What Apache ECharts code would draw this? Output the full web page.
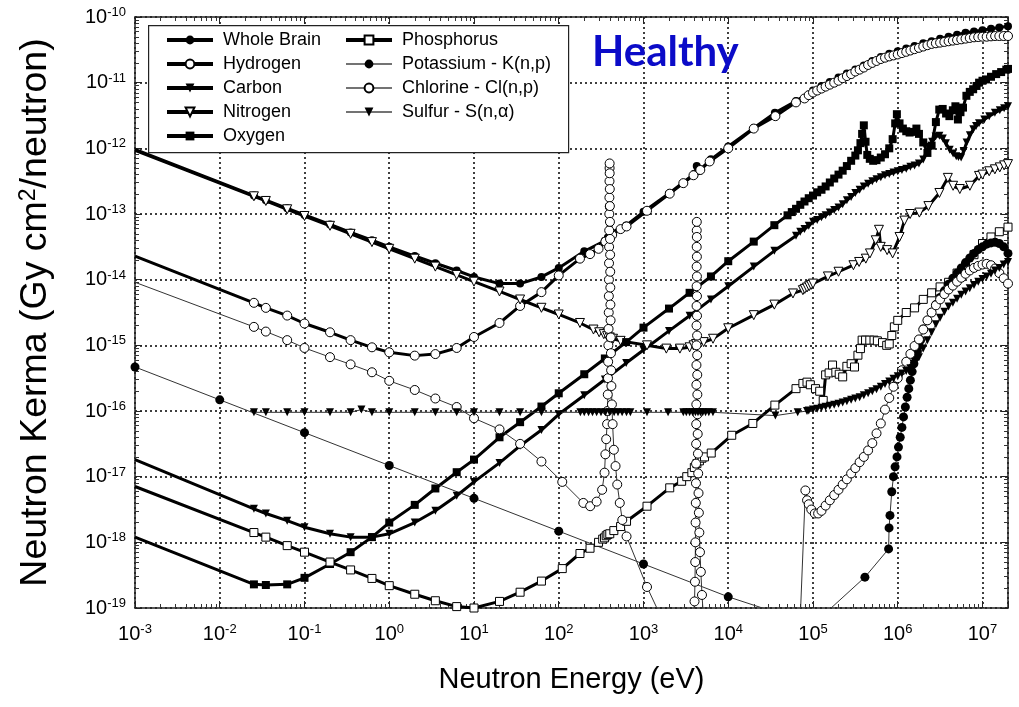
<!DOCTYPE html>
<html>
<head>
<meta charset="utf-8">
<script src="https://cdn.jsdelivr.net/npm/echarts@6.0.0/dist/echarts.min.js"></script>
<style>
html,body{margin:0;padding:0;background:#fff;}
#chart{width:1019px;height:707px;}
</style>
</head>
<body>
<div id="chart"></div>
<script>
// Neutron kerma factors for healthy brain tissue and its constituents.
// Each point: [neutron energy (eV), kerma (Gy cm^2 / neutron)]

const wholeBrain = [
  [1e-3, 9.6e-13], [0.0253, 1.91e-13], [0.035, 1.62e-13], [0.0625, 1.22e-13], [0.1, 9.66e-14],
  [0.2, 6.92e-14], [0.35, 5.25e-14], [0.625, 3.98e-14], [1, 3.16e-14], [2, 2.29e-14],
  [3.5, 1.78e-14], [6.25, 1.38e-14], [10, 1.1e-14], [20, 8.71e-15], [35, 8.71e-15],
  [62.5, 1.1e-14], [100, 1.51e-14], [200, 2.7e-14], [350, 3.9e-14], [380, 4.4e-14],
  [390, 1.3e-13], [398, 4.5e-13], [405, 1.3e-13], [415, 5.2e-14], [625, 6.7e-14],
  [1000, 1.08e-13], [2000, 2.05e-13], [4000, 4.1e-13], [4250, 5.4e-13], [4500, 4.5e-13],
  [6250, 6.8e-13], [1e4, 1.07e-12], [2e4, 2.04e-12], [3.55e4, 3.47e-12], [6.31e4, 5.25e-12],
  [1e5, 7.59e-12], [1.26e5, 8.91e-12], [1.58e5, 1.02e-11], [2e5, 1.2e-11], [2.51e5, 1.38e-11],
  [3.16e5, 1.58e-11], [3.98e5, 1.82e-11], [5.01e5, 2.14e-11], [6.31e5, 2.45e-11], [7.94e5, 2.75e-11],
  [1e6, 3.02e-11], [1.26e6, 3.31e-11], [1.58e6, 3.63e-11], [2e6, 3.98e-11], [2.51e6, 4.27e-11],
  [3.16e6, 4.68e-11], [3.98e6, 5.01e-11], [5.01e6, 5.37e-11], [6.31e6, 5.75e-11], [7.94e6, 6.03e-11],
  [1e7, 6.31e-11], [1.26e7, 6.61e-11], [1.58e7, 6.92e-11], [2e7, 7.24e-11]
];

const hydrogen = [
  [1e-3, 2.29e-14], [0.0253, 4.44e-15], [0.035, 3.72e-15], [0.0625, 2.84e-15], [0.1, 2.15e-15],
  [0.2, 1.58e-15], [0.35, 1.2e-15], [0.625, 9.33e-16], [1, 7.82e-16], [2, 6.97e-16],
  [3.5, 7.36e-16], [6.25, 9.12e-16], [10, 1.34e-15], [20, 2.19e-15], [35, 3.98e-15],
  [62.5, 6.46e-15], [100, 1.16e-14], [178, 2.09e-14], [234, 2.45e-14], [295, 2.95e-14],
  [355, 3.8e-14], [427, 4.79e-14], [537, 5.89e-14], [631, 6.46e-14], [1100, 1.12e-13],
  [2040, 2.04e-13], [2950, 2.95e-13], [3890, 3.89e-13], [4680, 4.68e-13], [6030, 6.31e-13],
  [1e4, 1e-12], [2e4, 2e-12], [3.6e4, 3.09e-12], [6.3e4, 5.01e-12], [7.94e4, 5.75e-12],
  [8.91e4, 6.46e-12], [1e5, 7.08e-12], [1.12e5, 7.59e-12], [1.26e5, 8.13e-12], [1.41e5, 8.71e-12],
  [1.58e5, 9.33e-12], [1.78e5, 1e-11], [2e5, 1.07e-11], [2.24e5, 1.17e-11], [2.51e5, 1.26e-11],
  [2.82e5, 1.35e-11], [3.16e5, 1.48e-11], [3.55e5, 1.58e-11], [3.98e5, 1.7e-11], [4.47e5, 1.86e-11],
  [5.01e5, 2e-11], [5.62e5, 2.14e-11], [6.31e5, 2.29e-11], [7.08e5, 2.4e-11], [7.94e5, 2.51e-11],
  [8.91e5, 2.6e-11], [1e6, 2.69e-11], [1.12e6, 2.82e-11], [1.26e6, 2.95e-11], [1.41e6, 3.09e-11],
  [1.58e6, 3.24e-11], [1.78e6, 3.39e-11], [2e6, 3.55e-11], [2.24e6, 3.72e-11], [2.51e6, 3.89e-11],
  [2.82e6, 3.98e-11], [3.16e6, 4.07e-11], [3.55e6, 4.17e-11], [3.98e6, 4.27e-11], [4.47e6, 4.37e-11],
  [5.01e6, 4.47e-11], [5.62e6, 4.57e-11], [6.31e6, 4.68e-11], [7.08e6, 4.79e-11], [7.94e6, 4.9e-11],
  [8.91e6, 4.95e-11], [1e7, 5.01e-11], [1.12e7, 5.01e-11], [1.26e7, 5.07e-11], [1.41e7, 5.13e-11],
  [1.58e7, 5.13e-11], [1.78e7, 5.13e-11], [2e7, 5.13e-11]
];

const carbon = [
  [1e-3, 1.82e-17], [0.0253, 3.24e-18], [0.035, 2.75e-18], [0.0625, 2.14e-18], [0.1, 1.7e-18],
  [0.2, 1.35e-18], [0.35, 1.2e-18], [0.625, 1.2e-18], [1, 1.35e-18], [2, 2e-18],
  [3.5, 3.02e-18], [6.25, 5.13e-18], [10, 8.32e-18], [20, 1.62e-17], [35, 2.95e-17],
  [62.5, 5.13e-17], [100, 8.91e-17], [200, 1.74e-16], [350, 3.02e-16], [625, 5.37e-16],
  [1000, 8.51e-16], [2000, 1.66e-15], [3500, 2.82e-15], [6250, 5.01e-15], [1e4, 7.94e-15],
  [2e4, 1.58e-14], [3.5e4, 2.75e-14], [6.3e4, 4.68e-14], [7.08e4, 5.37e-14], [7.94e4, 5.89e-14],
  [8.91e4, 6.61e-14], [1e5, 7.59e-14], [1.12e5, 8.13e-14], [1.26e5, 8.91e-14], [1.41e5, 9.55e-14],
  [1.58e5, 1.05e-13], [1.78e5, 1.15e-13], [2e5, 1.26e-13], [2.24e5, 1.41e-13], [2.51e5, 1.62e-13],
  [2.82e5, 1.82e-13], [3.16e5, 2.09e-13], [3.55e5, 2.34e-13], [3.98e5, 2.63e-13], [4.47e5, 2.88e-13],
  [5.01e5, 3.16e-13], [5.62e5, 3.39e-13], [6.31e5, 3.63e-13], [7.08e5, 3.89e-13], [7.94e5, 4.07e-13],
  [8.91e5, 4.27e-13], [1e6, 4.47e-13], [1.12e6, 4.68e-13], [1.26e6, 4.9e-13], [1.41e6, 5.25e-13],
  [1.58e6, 5.5e-13], [1.78e6, 5.89e-13], [2e6, 6.76e-13], [2.3e6, 1.05e-12], [2.55e6, 1.26e-12],
  [2.8e6, 1.51e-12], [3.1e6, 1.55e-12], [3.4e6, 1.41e-12], [3.7e6, 1.2e-12], [4.1e6, 9.55e-13],
  [4.5e6, 8.32e-13], [4.9e6, 7.59e-13], [5.2e6, 7.41e-13], [5.6e6, 7.24e-13], [6e6, 9.12e-13],
  [6.5e6, 1.23e-12], [7.1e6, 1.58e-12], [7.8e6, 1.95e-12], [8.4e6, 2.19e-12], [9.1e6, 2.4e-12],
  [1.05e7, 2.75e-12], [1.2e7, 3.09e-12], [1.4e7, 3.47e-12], [1.6e7, 3.8e-12], [1.8e7, 4.07e-12],
  [2e7, 4.37e-12]
];

const nitrogen = [
  [1e-3, 9.33e-13], [0.0253, 1.86e-13], [0.035, 1.58e-13], [0.0625, 1.18e-13], [0.1, 9.33e-14],
  [0.2, 6.61e-14], [0.35, 4.99e-14], [0.625, 3.73e-14], [1, 2.95e-14], [2, 2.09e-14],
  [3.5, 1.58e-14], [6.25, 1.18e-14], [10, 9.33e-15], [20, 6.61e-15], [35, 4.99e-15],
  [62.5, 3.73e-15], [100, 2.95e-15], [178, 2.19e-15], [257, 1.74e-15], [300, 1.58e-15],
  [340, 1.48e-15], [372, 1.38e-15], [400, 1.32e-15], [437, 1.26e-15], [537, 1.17e-15],
  [1100, 1e-15], [1860, 8.91e-16], [2690, 8.91e-16], [3500, 9.33e-16], [3890, 1e-15],
  [4170, 1.05e-15], [4470, 1.07e-15], [5130, 1.12e-15], [6610, 1.26e-15], [1e4, 1.82e-15],
  [2e4, 2.88e-15], [3.5e4, 4.17e-15], [5.8e4, 6.17e-15], [7.6e4, 6.92e-15], [8e4, 7.24e-15],
  [8.5e4, 7.59e-15], [9e4, 7.94e-15], [9.5e4, 8.32e-15], [1e5, 8.71e-15], [1.5e5, 1.12e-14],
  [2e5, 1.32e-14], [3e5, 1.66e-14], [3.5e5, 1.86e-14], [4.2e5, 2.09e-14], [4.7e5, 2.51e-14],
  [5.5e5, 3.98e-14], [6e5, 5.75e-14], [6.3e5, 3.16e-14], [7.5e5, 2.82e-14], [8.7e5, 2.51e-14],
  [1.05e6, 4.47e-14], [1.2e6, 7.94e-14], [1.4e6, 1e-13], [1.8e6, 1.05e-13], [2.3e6, 1.32e-13],
  [3.1e6, 2.09e-13], [3.9e6, 3.55e-13], [4.5e6, 2.69e-13], [5.4e6, 2.4e-13], [7.1e6, 2.69e-13],
  [9.1e6, 3.8e-13], [1e7, 3.98e-13], [1.2e7, 4.47e-13], [1.4e7, 4.79e-13], [1.6e7, 5.13e-13],
  [1.8e7, 5.5e-13], [2e7, 5.75e-13]
];

const oxygen = [
  [1e-3, 1.2e-18], [0.0253, 2.29e-19], [0.035, 2.24e-19], [0.0625, 2.29e-19], [0.1, 2.88e-19],
  [0.2, 4.68e-19], [0.35, 7.08e-19], [0.625, 1.2e-18], [1, 2e-18], [2, 3.72e-18],
  [3.5, 6.61e-18], [6.25, 1.17e-17], [10, 1.82e-17], [20, 3.98e-17], [35, 6.76e-17],
  [62.5, 1.17e-16], [100, 1.86e-16], [200, 3.63e-16], [350, 6.31e-16], [625, 1.12e-15],
  [1000, 1.86e-15], [2000, 3.63e-15], [3500, 6.31e-15], [6250, 1.12e-14], [1e4, 1.91e-14],
  [2e4, 3.8e-14], [3.5e4, 6.76e-14], [5.01e4, 9.55e-14], [5.62e4, 1.07e-13], [6.31e4, 1.2e-13],
  [7.08e4, 1.38e-13], [7.94e4, 1.55e-13], [8.91e4, 1.74e-13], [1e5, 1.91e-13], [1.12e5, 2.14e-13],
  [1.26e5, 2.34e-13], [1.41e5, 2.63e-13], [1.58e5, 3.02e-13], [1.78e5, 3.47e-13], [2e5, 3.98e-13],
  [2.24e5, 4.57e-13], [2.51e5, 5.37e-13], [2.82e5, 6.46e-13], [3.16e5, 7.76e-13], [3.39e5, 9.33e-13],
  [3.63e5, 1.2e-12], [3.8e5, 1.66e-12], [3.98e5, 2.24e-12], [4.17e5, 1.26e-12], [4.37e5, 7.94e-13],
  [4.68e5, 6.92e-13], [5.13e5, 6.46e-13], [5.62e5, 6.61e-13], [6.31e5, 7.24e-13], [7.08e5, 8.13e-13],
  [7.94e5, 1e-12], [8.71e5, 1.38e-12], [9.33e5, 2.4e-12], [9.77e5, 3.31e-12], [1.05e6, 2.4e-12],
  [1.15e6, 2e-12], [1.26e6, 1.82e-12], [1.38e6, 1.74e-12], [1.51e6, 1.78e-12], [1.66e6, 2e-12],
  [1.78e6, 1.66e-12], [2e6, 1.23e-12], [2.24e6, 8.51e-13], [2.51e6, 1.1e-12], [2.82e6, 2.51e-12],
  [3.09e6, 3.89e-12], [3.39e6, 3.98e-12], [3.72e6, 3.39e-12], [4.07e6, 3.09e-12], [4.47e6, 3.8e-12],
  [4.79e6, 4.37e-12], [5.13e6, 2.75e-12], [5.5e6, 3.55e-12], [5.89e6, 4.17e-12], [6.46e6, 6.31e-12],
  [7.08e6, 7.24e-12], [7.76e6, 7.94e-12], [8.51e6, 8.91e-12], [9.12e6, 1e-11], [1e7, 1.07e-11],
  [1.1e7, 1.12e-11], [1.26e7, 1.23e-11], [1.45e7, 1.35e-11], [1.66e7, 1.45e-11], [1.91e7, 1.58e-11],
  [2e7, 1.62e-11]
];

const phosphorus = [
  [1e-3, 7.08e-18], [0.0253, 1.41e-18], [0.035, 1.2e-18], [0.0625, 8.91e-19], [0.1, 7.08e-19],
  [0.2, 5.01e-19], [0.35, 3.8e-19], [0.625, 2.82e-19], [1, 2.19e-19], [2, 1.62e-19],
  [3.5, 1.29e-19], [6.25, 1.05e-19], [10, 1e-19], [20, 1.26e-19], [35, 1.74e-19],
  [62.5, 2.57e-19], [110, 3.98e-19], [178, 6.76e-19], [234, 8.13e-19], [295, 1e-18],
  [330, 1.12e-18], [347, 1.17e-18], [363, 1.26e-18], [380, 1.32e-18], [400, 1.35e-18],
  [447, 1.51e-18], [537, 1.74e-18], [631, 2.09e-18], [1100, 3.55e-18], [2040, 6.76e-18],
  [2820, 8.51e-18], [3240, 1e-17], [3720, 1.15e-17], [3980, 1.38e-17], [4270, 1.58e-17],
  [4570, 1.74e-17], [4900, 1.91e-17], [5250, 2e-17], [6300, 2.29e-17], [1.1e4, 4.27e-17],
  [1.95e4, 6.46e-17], [3.55e4, 1.23e-16], [6.3e4, 2.19e-16], [7.6e4, 2.63e-16], [8.5e4, 2.75e-16],
  [9.3e4, 2.51e-16], [1.07e5, 2.19e-16], [1.2e5, 2e-16], [1.32e5, 1.45e-16], [1.41e5, 3.55e-16],
  [1.55e5, 3.8e-16], [1.7e5, 5.01e-16], [1.86e5, 3.89e-16], [2.04e5, 3.63e-16], [2.24e5, 3.31e-16],
  [2.51e5, 4.79e-16], [2.82e5, 5.25e-16], [3.09e5, 4.68e-16], [3.39e5, 7.08e-16], [3.63e5, 8.91e-16],
  [3.8e5, 1.2e-15], [4.17e5, 1.2e-15], [4.68e5, 1.2e-15], [5.25e5, 1.2e-15], [5.75e5, 1.17e-15],
  [6.61e5, 1.1e-15], [7.41e5, 1e-15], [7.94e5, 1.05e-15], [8.51e5, 1.41e-15], [9.12e5, 1.91e-15],
  [1e6, 2.4e-15], [1.26e6, 3.16e-15], [1.58e6, 3.72e-15], [2e6, 5.01e-15], [2.51e6, 6.31e-15],
  [3.16e6, 7.76e-15], [3.98e6, 9.12e-15], [5.01e6, 1.26e-14], [6.31e6, 1.58e-14], [7.94e6, 2.4e-14],
  [1e7, 3.55e-14], [1.26e7, 4.47e-14], [1.58e7, 5.37e-14], [2e7, 6.31e-14]
];

const potassium = [
  [1e-3, 4.68e-16], [1e-2, 1.48e-16], [0.1, 4.68e-17], [1, 1.48e-17], [10, 4.68e-18],
  [100, 1.48e-18], [1e3, 4.68e-19], [1e4, 1.48e-19], [1e5, 5.6e-20], [4.1e5, 2.95e-19],
  [7.8e5, 7.94e-19], [7.9e5, 1.66e-18], [8.1e5, 2.57e-18], [8.5e5, 5.89e-18], [8.9e5, 1e-17],
  [9.3e5, 1.41e-17], [9.8e5, 2e-17], [1.02e6, 2.82e-17], [1.07e6, 3.98e-17], [1.12e6, 5.62e-17],
  [1.17e6, 8.13e-17], [1.23e6, 1.15e-16], [1.29e6, 1.62e-16], [1.35e6, 2.19e-16], [1.41e6, 2.95e-16],
  [1.48e6, 3.98e-16], [1.55e6, 5.25e-16], [1.62e6, 6.61e-16], [1.7e6, 8.32e-16], [1.78e6, 1e-15],
  [1.86e6, 1.2e-15], [2e6, 1.78e-15], [2.24e6, 2.4e-15], [2.51e6, 3.16e-15], [2.82e6, 4.17e-15],
  [3.16e6, 5.37e-15], [3.55e6, 6.76e-15], [3.98e6, 8.51e-15], [4.47e6, 1.05e-14], [5.01e6, 1.26e-14],
  [5.62e6, 1.51e-14], [6.31e6, 1.82e-14], [7.08e6, 2.14e-14], [7.94e6, 2.51e-14], [8.91e6, 2.88e-14],
  [1e7, 3.16e-14], [1.12e7, 3.47e-14], [1.26e7, 3.63e-14], [1.41e7, 3.72e-14], [1.58e7, 3.55e-14],
  [1.78e7, 3.16e-14], [2e7, 2.51e-14]
];

const chlorine = [
  [1e-3, 9.12e-15], [0.0253, 1.91e-15], [0.035, 1.62e-15], [0.0625, 1.2e-15], [0.1, 9.12e-16],
  [0.2, 6.61e-16], [0.35, 5.13e-16], [0.625, 3.89e-16], [1, 2.88e-16], [2, 2.09e-16],
  [3.5, 1.55e-16], [6.25, 1.15e-16], [10, 7.76e-17], [20, 5.25e-17], [35, 3.16e-17],
  [62.5, 1.7e-17], [110, 8.32e-18], [195, 3.98e-18], [235, 3.55e-18], [280, 4.17e-18],
  [325, 6.31e-18], [347, 1.15e-17], [355, 2.19e-17], [363, 3.72e-17], [372, 6.31e-17],
  [376, 1e-16], [379, 1.78e-16], [381, 3.16e-16], [383, 5.62e-16], [385, 1e-15],
  [387, 1.78e-15], [389, 3.16e-15], [390, 5.62e-15], [391, 1e-14], [392, 1.78e-14],
  [393, 3.16e-14], [394, 5.62e-14], [395, 1e-13], [396, 1.78e-13], [397, 3.16e-13],
  [398, 5.01e-13], [398.5, 5.89e-13], [399, 4.17e-13], [400, 2.4e-13], [401, 1.32e-13],
  [402, 7.59e-14], [403, 4.17e-14], [404, 2.4e-14], [405, 1.32e-14], [406, 7.59e-15],
  [407, 4.17e-15], [409, 2.4e-15], [411, 1.32e-15], [413, 7.59e-16], [415, 4.17e-16],
  [418, 2.4e-16], [424, 1.26e-16], [432, 6.31e-17], [447, 2.57e-17], [468, 1.45e-17],
  [490, 7.59e-18], [525, 3.98e-18], [562, 2.19e-18], [631, 1.23e-18], [1100, 2.09e-19],
  [1450, 9.77e-20], [2500, 1.6e-20], [3500, 1e-20], [3900, 8e-20], [4000, 1.26e-19],
  [4050, 2.51e-19], [4080, 5.01e-19], [4100, 1e-18], [4120, 2e-18], [4140, 3.98e-18],
  [4160, 7.94e-18], [4170, 1.58e-17], [4180, 3.16e-17], [4190, 6.31e-17], [4200, 1.26e-16],
  [4210, 2.51e-16], [4215, 5.01e-16], [4220, 1e-15], [4225, 2e-15], [4230, 3.98e-15],
  [4235, 7.94e-15], [4240, 1.58e-14], [4245, 3.16e-14], [4250, 5.62e-14], [4255, 7.59e-14],
  [4260, 4.47e-14], [4265, 2.24e-14], [4270, 1.12e-14], [4275, 5.62e-15], [4280, 2.82e-15],
  [4290, 1.41e-15], [4300, 7.08e-16], [4310, 3.55e-16], [4320, 1.78e-16], [4340, 8.91e-17],
  [4360, 4.47e-17], [4390, 2.24e-17], [4420, 1.12e-17], [4460, 5.62e-18], [4500, 2.82e-18],
  [4560, 1.41e-18], [4640, 7.08e-19], [4750, 3.55e-19], [4900, 1.58e-19], [5200, 5e-20],
  [2e4, 1e-21], [7e4, 5e-20], [8.13e4, 6.17e-18], [8.51e4, 4.37e-18], [8.91e4, 3.8e-18],
  [9.55e4, 3.16e-18], [1.05e5, 2.75e-18], [1.15e5, 2.75e-18], [1.26e5, 3.02e-18], [1.41e5, 3.63e-18],
  [1.58e5, 4.37e-18], [1.78e5, 5.25e-18], [2e5, 6.31e-18], [2.24e5, 7.59e-18], [2.51e5, 9.12e-18],
  [2.82e5, 1.12e-17], [3.16e5, 1.35e-17], [3.55e5, 1.66e-17], [3.98e5, 2e-17], [4.47e5, 2.51e-17],
  [5.01e5, 3.24e-17], [5.62e5, 4.57e-17], [6.31e5, 6.46e-17], [7.08e5, 1.05e-16], [7.94e5, 1.58e-16],
  [8.91e5, 2.34e-16], [1e6, 3.16e-16], [1.12e6, 4.17e-16], [1.26e6, 5.62e-16], [1.41e6, 7.41e-16],
  [1.58e6, 9.77e-16], [1.78e6, 1.23e-15], [2e6, 1.74e-15], [2.24e6, 2.4e-15], [2.51e6, 3.16e-15],
  [2.82e6, 4.07e-15], [3.16e6, 5.01e-15], [3.55e6, 6.03e-15], [3.98e6, 7.08e-15], [4.47e6, 8.13e-15],
  [5.01e6, 9.33e-15], [5.62e6, 1.07e-14], [6.31e6, 1.23e-14], [7.08e6, 1.38e-14], [7.94e6, 1.51e-14],
  [8.91e6, 1.62e-14], [1e7, 1.7e-14], [1.12e7, 1.74e-14], [1.26e7, 1.66e-14], [1.41e7, 1.48e-14],
  [1.58e7, 1.26e-14], [1.78e7, 1.05e-14], [2e7, 8.71e-15]
];

const sulfur = [
  [0.0253, 9.55e-17], [0.035, 9.55e-17], [0.0625, 9.55e-17], [0.1, 9.55e-17], [0.2, 9.55e-17],
  [0.35, 9.55e-17], [0.47, 1.05e-16], [0.625, 9.55e-17], [1, 9.55e-17], [2, 9.55e-17],
  [3.5, 9.55e-17], [6.25, 9.55e-17], [10, 9.55e-17], [20, 9.55e-17], [35, 9.55e-17],
  [62.5, 9.55e-17], [180, 9.55e-17], [200, 9.55e-17], [225, 9.55e-17], [250, 9.55e-17],
  [280, 9.55e-17], [315, 9.55e-17], [355, 9.55e-17], [400, 9.55e-17], [450, 9.55e-17],
  [500, 9.55e-17], [560, 9.55e-17], [630, 9.55e-17], [700, 9.55e-17], [1100, 9.55e-17],
  [1950, 9.55e-17], [2950, 9.55e-17], [3200, 9.55e-17], [3500, 9.55e-17], [3800, 9.55e-17],
  [4100, 9.55e-17], [4400, 9.55e-17], [4700, 9.55e-17], [5000, 9.55e-17], [5400, 9.55e-17],
  [5900, 9.55e-17], [6600, 9.55e-17], [3.6e4, 8.51e-17], [6.6e4, 9.55e-17], [8.5e4, 1e-16],
  [8.91e4, 1.02e-16], [1e5, 1.05e-16], [1.12e5, 1.08e-16], [1.26e5, 1.12e-16], [1.41e5, 1.16e-16],
  [1.58e5, 1.2e-16], [1.78e5, 1.24e-16], [2e5, 1.29e-16], [2.24e5, 1.35e-16], [2.51e5, 1.41e-16],
  [2.82e5, 1.48e-16], [3.16e5, 1.55e-16], [3.55e5, 1.62e-16], [3.98e5, 1.74e-16], [4.47e5, 1.86e-16],
  [5.01e5, 2e-16], [5.62e5, 2.14e-16], [6.31e5, 2.34e-16], [7.08e5, 2.57e-16], [7.94e5, 2.82e-16],
  [8.91e5, 3.09e-16], [1e6, 3.39e-16], [1.12e6, 3.72e-16], [1.26e6, 4.07e-16], [1.41e6, 4.47e-16],
  [1.58e6, 5.25e-16], [1.78e6, 6.61e-16], [2e6, 8.91e-16], [2.24e6, 1.2e-15], [2.51e6, 1.58e-15],
  [2.82e6, 2.09e-15], [3.16e6, 2.63e-15], [3.55e6, 3.24e-15], [3.98e6, 3.89e-15], [4.47e6, 4.47e-15],
  [5.01e6, 5.13e-15], [5.62e6, 5.89e-15], [6.31e6, 6.61e-15], [7.08e6, 7.41e-15], [7.94e6, 8.32e-15],
  [8.91e6, 9.33e-15], [1e7, 1.02e-14], [1.12e7, 1.12e-14], [1.26e7, 1.23e-14], [1.41e7, 1.38e-14],
  [1.58e7, 1.51e-14], [1.78e7, 1.7e-14], [2e7, 1.86e-14]
];

// Decade exponents that carry a "10^n" tick label
const xDecades = [-3, -2, -1, 0, 1, 2, 3, 4, 5, 6, 7];
const yDecades = [-19, -18, -17, -16, -15, -14, -13, -12, -11, -10];

const X_MIN = 1e-3, X_MAX = 2e7, Y_MIN = 1e-19, Y_MAX = 1e-10;
const LX0 = Math.log10(X_MIN), LX1 = Math.log10(X_MAX);
const LY0 = Math.log10(Y_MIN), LY1 = Math.log10(Y_MAX);
const FONT = 'Liberation Sans';

// minor tick positions (2..9 within each decade), expressed as exponents
function minorPositions(lo, hi) {
  const out = [];
  for (let n = Math.floor(lo); n < Math.ceil(hi); n++) {
    for (let k = 2; k <= 9; k++) {
      const p = n + Math.log10(k);
      if (p > lo && p < hi) out.push(p);
    }
  }
  return out;
}
const xMinor = minorPositions(LX0, LX1);
const yMinor = minorPositions(LY0, LY1);

function powerLabel(decades) {
  return function (v) {
    const n = Math.round(v);
    if (Math.abs(v - n) > 1e-6 || decades.indexOf(n) < 0) return '';
    return '{b|10}{e|' + n + '}';
  };
}
const labelRich = {
  b: { fontSize: 20, fontFamily: FONT, color: '#000', lineHeight: 22 },
  e: { fontSize: 13, fontFamily: FONT, color: '#000', lineHeight: 13, verticalAlign: 'top' }
};

const frameLine = { show: true, onZero: false, lineStyle: { color: '#222', width: 1.5 } };
const gridLine = { show: true, lineStyle: { color: '#000', width: 1.5, type: [2, 3] } };

// value axes on the exponent scale: frame, ticks, grid and tick labels
function decoAxis(kind, pos, opts) {
  const lo = kind === 'x' ? LX0 : LY0;
  const hi = kind === 'x' ? LX1 : LY1;
  return Object.assign({
    type: 'value', position: pos, min: lo, max: hi, interval: 1,
    axisLine: { show: false, onZero: false }, axisLabel: { show: false }, splitLine: { show: false },
    axisTick: { show: false }, silent: true
  }, opts);
}
const majorTick = { show: true, inside: true, length: 7, lineStyle: { color: '#222', width: 1 } };
function minorTick(values) {
  return { show: true, inside: true, length: 4, customValues: values, lineStyle: { color: '#333', width: 1 } };
}
const hiddenLine = { show: false, onZero: false };

const seriesDefs = [
  { name: 'Whole Brain', data: wholeBrain, symbol: 'circle', fill: '#000', width: 3, size: 8, bare: true },
  { name: 'Hydrogen', data: hydrogen, symbol: 'circle', fill: '#fff', width: 3, size: 9, bare: true },
  { name: 'Carbon', data: carbon, symbol: 'triangle', rotate: 180, fill: '#000', width: 3, size: 8, bare: true },
  { name: 'Nitrogen', data: nitrogen, symbol: 'triangle', rotate: 180, fill: '#fff', width: 3, size: 9, bare: true },
  { name: 'Oxygen', data: oxygen, symbol: 'rect', fill: '#000', width: 3, size: 8, bare: true },
  { name: 'Phosphorus', data: phosphorus, symbol: 'rect', fill: '#fff', width: 3, size: 8, bare: true },
  { name: 'Potassium - K(n,p)', data: potassium, symbol: 'circle', fill: '#000', width: 1, size: 9, bare: false },
  { name: 'Chlorine - Cl(n,p)', data: chlorine, symbol: 'circle', fill: '#fff', width: 1, size: 9, bare: true },
  { name: 'Sulfur - S(n,\u03b1)', data: sulfur, symbol: 'triangle', rotate: 180, fill: '#000', width: 1, size: 8, bare: false }
];

const legendBase = {
  orient: 'vertical', top: 31, itemWidth: 46, itemHeight: 11, itemGap: 6,
  selectedMode: false, padding: 0,
  textStyle: { fontSize: 18, fontFamily: FONT, color: '#000', padding: [0, 0, 0, 5] }
};
function legendItems(defs) {
  return defs.map(d => ({
    name: d.name,
    lineStyle: { width: d.width > 2 ? 4 : 1.5, color: d.width > 2 ? '#000' : '#444' }
  }));
}

const chart = echarts.init(document.getElementById('chart'), null, { renderer: 'canvas' });
chart.setOption({
  animation: false,
  backgroundColor: '#fff',
  textStyle: { fontFamily: FONT },
  grid: { left: 135, top: 17, width: 873, height: 591, containLabel: false },
  title: {
    text: 'Healthy', left: 592, top: 31, padding: 0,
    textStyle: { color: '#0b0bc8', fontSize: 42, fontWeight: 'bold', fontFamily: 'Lato' }
  },
  graphic: [{
    type: 'rect', left: 148, top: 25, z: 3, silent: true,
    shape: { width: 420, height: 127 },
    style: { fill: '#fff', stroke: '#222', lineWidth: 1.2 }
  }],
  legend: [
    Object.assign({ left: 165, data: legendItems(seriesDefs.slice(0, 5)) }, legendBase),
    Object.assign({ left: 344, data: legendItems(seriesDefs.slice(5)) }, legendBase)
  ],
  xAxis: [
    { type: 'log', logBase: 10, min: X_MIN, max: X_MAX, show: false },
    decoAxis('x', 'bottom', {
      axisLine: frameLine,
      axisTick: majorTick,
      axisLabel: { show: true, margin: 15, formatter: powerLabel(xDecades), rich: labelRich },
      splitLine: gridLine,
      name: 'Neutron Energy (eV)', nameLocation: 'middle', nameGap: 57,
      nameTextStyle: { fontSize: 29, fontFamily: FONT, color: '#000' }
    }),
    decoAxis('x', 'top', { axisLine: frameLine, axisTick: majorTick }),
    decoAxis('x', 'bottom', { axisLine: hiddenLine, axisTick: minorTick(xMinor) }),
    decoAxis('x', 'top', { axisLine: hiddenLine, axisTick: minorTick(xMinor) })
  ],
  yAxis: [
    { type: 'log', logBase: 10, min: Y_MIN, max: Y_MAX, show: false },
    decoAxis('y', 'left', {
      axisLine: frameLine,
      axisTick: majorTick,
      axisLabel: { show: true, margin: 9, formatter: powerLabel(yDecades), rich: labelRich },
      splitLine: gridLine,
      name: 'Neutron Kerma (Gy cm{sup|2}/neutron)', nameLocation: 'middle', nameGap: 80,
      nameTextStyle: {
        fontSize: 37.5, fontFamily: FONT, color: '#000',
        rich: { sup: { fontSize: 23, fontFamily: FONT, color: '#000', verticalAlign: 'top', lineHeight: 23 } }
      }
    }),
    decoAxis('y', 'right', { axisLine: frameLine, axisTick: majorTick }),
    decoAxis('y', 'left', { axisLine: hiddenLine, axisTick: minorTick(yMinor) }),
    decoAxis('y', 'right', { axisLine: hiddenLine, axisTick: minorTick(yMinor) })
  ],
  series: seriesDefs.map(d => ({
    name: d.name,
    type: 'line',
    xAxisIndex: 0,
    yAxisIndex: 0,
    data: d.data.map((p, i) => (i === 0 && d.bare) ? { value: p, symbol: 'none' } : p),
    symbol: d.symbol,
    symbolSize: d.size,
    symbolRotate: d.rotate || 0,
    showSymbol: true,
    showAllSymbol: true,
    clip: true,
    silent: true,
    lineStyle: { color: d.width > 2 ? '#000' : '#333', width: d.width },
    itemStyle: { color: d.fill, borderColor: '#000', borderWidth: d.fill === '#fff' ? 1 : 0 },
    emphasis: { disabled: true }
  }))
});
</script>
</body>
</html>
